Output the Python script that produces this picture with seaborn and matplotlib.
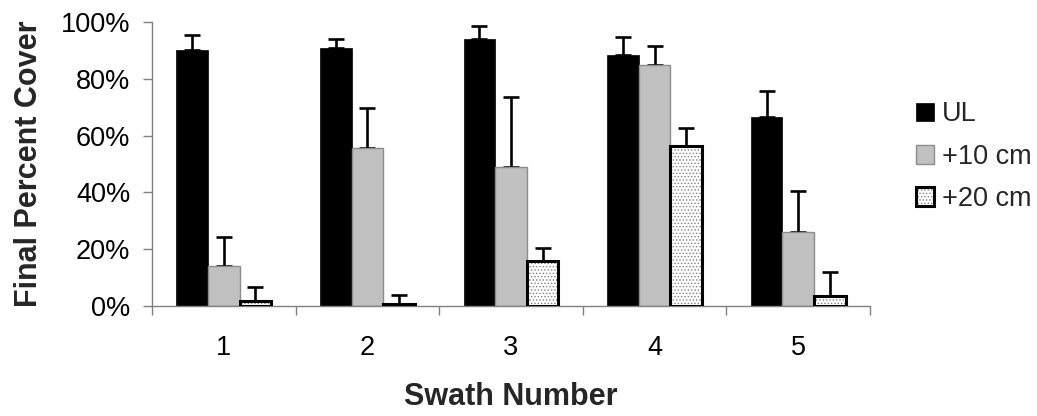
import numpy as np
import pandas as pd
import matplotlib
matplotlib.use("Agg")
import matplotlib.pyplot as plt
from matplotlib.patches import Rectangle
from matplotlib.legend_handler import HandlerTuple
from matplotlib.ticker import FixedLocator, FuncFormatter
import seaborn as sns

# Final percent cover per swath and treatment (mean and upper error, in %)
swaths = ["1", "2", "3", "4", "5"]
treatments = ["UL", "+10 cm", "+20 cm"]
cover_ul = [90.2, 90.8, 94.1, 88.5, 66.6]
cover_10 = [13.9, 55.5, 48.8, 84.8, 25.9]
cover_20 = [1.7, 0.6, 15.8, 56.5, 3.5]
err_ul = [5.4, 3.2, 4.7, 6.3, 9.2]
err_10 = [10.2, 14.4, 24.7, 6.7, 14.6]
err_20 = [4.9, 3.3, 4.7, 6.2, 8.5]

values = {"UL": cover_ul, "+10 cm": cover_10, "+20 cm": cover_20}
errors = {"UL": err_ul, "+10 cm": err_10, "+20 cm": err_20}

df = pd.DataFrame({
    "swath": np.tile(swaths, len(treatments)),
    "treatment": np.repeat(treatments, len(swaths)),
    "cover": np.concatenate([values[t] for t in treatments]),
})

sns.set_theme(style="white")
plt.rcParams["font.family"] = ["Liberation Sans", "DejaVu Sans"]
plt.rcParams["hatch.linewidth"] = 0.6

fig = plt.figure(figsize=(10.37, 4.16), dpi=100)
ax = fig.add_axes([152 / 1037, 1 - 305.7 / 416, (870 - 152) / 1037, (305.7 - 22.4) / 416])

palette = {"UL": "#000000", "+10 cm": "#C0C0C0", "+20 cm": "#FFFFFF"}
sns.barplot(data=df, x="swath", y="cover", hue="treatment", order=swaths,
            hue_order=treatments, palette=palette, saturation=1, width=0.66,
            errorbar=None, legend=False, ax=ax)

bar_containers = list(ax.containers)
outlines = []

# Style each treatment's bars and attach upper error bars
for treat, cont in zip(treatments, bar_containers):
    for p in cont.patches:
        if treat == "UL":
            p.set_edgecolor("#000000")
            p.set_linewidth(0.5)
        elif treat == "+10 cm":
            p.set_edgecolor("#8C8C8C")
            p.set_linewidth(1.0)
        else:
            # fine grey stipple inside a heavy black outline
            p.set_edgecolor("#808080")
            p.set_linewidth(0)
            p.set_hatch(".....")
            rim = Rectangle(p.get_xy(), p.get_width(), p.get_height(), fill=False,
                            edgecolor="#000000", linewidth=2.2, zorder=3)
            ax.add_patch(rim)
            outlines.append(rim)
        p.set_zorder(2)
        xc = p.get_x() + p.get_width() / 2
        idx = int(round(xc))
        h = p.get_height()
        ax.errorbar([xc], [h], yerr=[[0], [errors[treat][idx]]], fmt="none",
                    ecolor="#000000", elinewidth=1.9, capsize=6.1, capthick=1.9,
                    zorder=1)

ax.set_xlim(-0.5, len(swaths) - 0.5)
ax.set_ylim(0, 100)
ax.yaxis.set_major_locator(FixedLocator([0, 20, 40, 60, 80, 100]))
ax.yaxis.set_major_formatter(FuncFormatter(lambda v, _: f"{v:.0f}%"))

ax.xaxis.set_minor_locator(FixedLocator(np.arange(-0.5, len(swaths), 1.0)))
ax.tick_params(axis="x", which="major", length=0, pad=21, labelsize=19.5, colors="#000000")
ax.tick_params(axis="x", which="minor", length=6.5, width=1.0, color="#808080", direction="out", bottom=True)
ax.tick_params(axis="y", which="major", length=6.5, width=1.0, color="#808080", direction="out",
               pad=9, labelsize=19.5, left=True, labelcolor="#000000")

for side in ["top", "right"]:
    ax.spines[side].set_visible(False)
for side in ["left", "bottom"]:
    ax.spines[side].set_color("#808080")
    ax.spines[side].set_linewidth(1.0)

ax.set_xlabel("Swath Number", fontsize=22, fontweight="bold", labelpad=15)
ax.set_ylabel("Final Percent Cover", fontsize=22, fontweight="bold", labelpad=12)

handles = [bar_containers[0].patches[0], bar_containers[1].patches[0],
           (bar_containers[2].patches[0], outlines[0])]
leg = fig.legend(handles, treatments, loc="center left",
                 bbox_to_anchor=(916 / 1037, 1 - 156.7 / 416), frameon=False,
                 fontsize=19.5, handlelength=0.68, handleheight=0.68,
                 handletextpad=0.28, labelspacing=0.6, borderpad=0, borderaxespad=0,
                 handler_map={tuple: HandlerTuple(ndivide=1, pad=0)})

fig.savefig("out.png", dpi=100, facecolor="white")
